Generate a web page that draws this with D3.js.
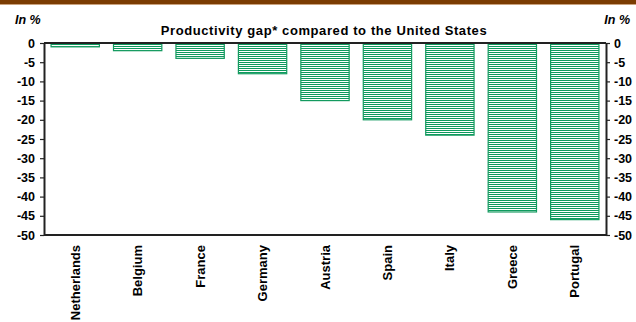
<!DOCTYPE html>
<html>
<head>
<meta charset="utf-8">
<script src="https://cdn.jsdelivr.net/npm/d3@7/dist/d3.min.js"></script>
<style>
  html, body { margin: 0; padding: 0; background: #fff; }
  svg { display: block; font-family: Arial, "Liberation Sans", sans-serif; }
</style>
</head>
<body>
<svg id="chart" width="636" height="322"></svg>
<script>
// Productivity gap vs. the United States, in %
const countries = ["Netherlands", "Belgium", "France", "Germany", "Austria", "Spain", "Italy", "Greece", "Portugal"];
const gapValues = [-1, -2, -4, -8, -15, -20, -24, -44, -46];
const yTicks = [0, -5, -10, -15, -20, -25, -30, -35, -40, -45, -50];
const titleText = "Productivity gap* compared to the United States";
const unitLabel = "In %";

const svg = d3.select("#chart");
const W = 636, H = 322;
const margin = { left: 44, right: 30, top: 43, bottom: 87 };
const innerRight = W - margin.right;
const innerBottom = H - margin.bottom;

// Header band
svg.append("rect").attr("x", 0).attr("y", 0).attr("width", W).attr("height", 4).attr("fill", "#7b3c02");
svg.append("rect").attr("x", 0).attr("y", 4).attr("width", W).attr("height", 1).attr("fill", "#c9a27e");

// Striped fill for the bars
const defs = svg.append("defs");
const pat = defs.append("pattern")
  .attr("id", "stripes")
  .attr("patternUnits", "userSpaceOnUse")
  .attr("width", 8).attr("height", 2);
pat.append("rect").attr("width", 8).attr("height", 2).attr("fill", "#ffffff");
pat.append("rect").attr("y", 0).attr("width", 8).attr("height", 1).attr("fill", "#0e9a5e");

const x = d3.scaleBand()
  .domain(countries)
  .range([margin.left, innerRight])
  .paddingInner(0.21)
  .paddingOuter(0.105);

const y = d3.scaleLinear()
  .domain([-50, 0])
  .range([innerBottom, margin.top]);

// Bars
svg.append("g").selectAll("rect")
  .data(countries.map((c, i) => ({ c, v: gapValues[i] })))
  .join("rect")
  .attr("x", d => x(d.c) + 0.5)
  .attr("y", y(0))
  .attr("width", x.bandwidth() - 1)
  .attr("height", d => y(d.v) - y(0))
  .attr("fill", "url(#stripes)")
  .attr("stroke", "#139a5f")
  .attr("stroke-width", 1.2);

// Axes
const styleAxis = g => {
  g.select(".domain").attr("stroke", "#222").attr("stroke-width", 2);
  g.selectAll(".tick line").attr("stroke", "#222").attr("stroke-width", 1.2);
  g.selectAll(".tick text")
    .attr("fill", "#000")
    .attr("font-size", 12.5)
    .attr("font-weight", "bold")
    .attr("font-family", "Arial, 'Liberation Sans', sans-serif");
};
const tickFmt = d => String(d);

svg.append("g")
  .attr("transform", `translate(${margin.left},0)`)
  .call(d3.axisLeft(y).tickValues(yTicks).tickSize(4).tickSizeOuter(0).tickPadding(5).tickFormat(tickFmt))
  .call(styleAxis);

svg.append("g")
  .attr("transform", `translate(${innerRight},0)`)
  .call(d3.axisRight(y).tickValues(yTicks).tickSize(4).tickSizeOuter(0).tickPadding(4).tickFormat(tickFmt))
  .call(styleAxis);

// Zero baseline
svg.append("line")
  .attr("x1", margin.left).attr("x2", innerRight)
  .attr("y1", y(0)).attr("y2", y(0))
  .attr("stroke", "#222").attr("stroke-width", 2);

// Bottom line at -50
svg.append("line")
  .attr("x1", margin.left).attr("x2", innerRight)
  .attr("y1", y(-50)).attr("y2", y(-50))
  .attr("stroke", "#222").attr("stroke-width", 2);

// Category labels, rotated
svg.append("g").selectAll("text")
  .data(countries)
  .join("text")
  .attr("transform", d => `translate(${x(d) + x.bandwidth() / 2 + 4.5},${innerBottom + 10}) rotate(-90)`)
  .attr("text-anchor", "end")
  .attr("font-size", 13)
  .attr("font-weight", "bold")
  .attr("fill", "#000")
  .text(d => d);

// Title and unit labels
svg.append("text")
  .attr("x", 324).attr("y", 35)
  .attr("text-anchor", "middle")
  .attr("font-size", 13)
  .attr("font-weight", "bold")
  .attr("letter-spacing", 0.6)
  .attr("fill", "#000")
  .text(titleText);

svg.append("text")
  .attr("x", 15).attr("y", 24)
  .attr("font-size", 12.5)
  .attr("font-weight", "bold")
  .attr("font-style", "italic")
  .text(unitLabel);

svg.append("text")
  .attr("x", 630).attr("y", 24)
  .attr("text-anchor", "end")
  .attr("font-size", 12.5)
  .attr("font-weight", "bold")
  .attr("font-style", "italic")
  .text(unitLabel);
</script>
</body>
</html>
